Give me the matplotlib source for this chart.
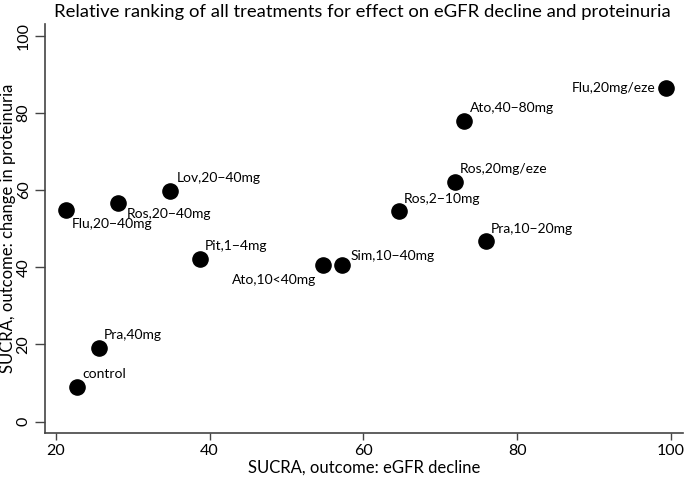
import numpy as np
import matplotlib.pyplot as plt

plt.rcParams['font.family'] = ['Lato', 'DejaVu Sans']

# SUCRA values
names = ["Flu,20\u221240mg", "Ros,20\u221240mg", "Lov,20\u221240mg", "Pit,1\u22124mg",
         "Ato,10<40mg", "Sim,10\u221240mg", "Ros,2\u221210mg", "Ros,20mg/eze",
         "Ato,40\u221280mg", "Pra,10\u221220mg", "Flu,20mg/eze", "Pra,40mg", "control"]
sucra_egfr = [21.3, 28.1, 34.9, 38.8, 54.7, 57.2, 64.6, 71.9, 73.1, 75.9, 99.3, 25.6, 22.8]
sucra_prot = [54.8, 56.6, 59.8, 42.1, 40.7, 40.6, 54.5, 62.0, 77.9, 46.7, 86.4, 19.0, 9.0]

# label offsets in pixels (dx, dy) and horizontal alignment
offsets = [(6, -14, 'left'), (9, -11, 'left'), (6, 13, 'left'), (4, 13, 'left'),
           (-6, -15, 'right'), (9, 9, 'left'), (5, 12, 'left'), (5, 13, 'left'),
           (6, 13, 'left'), (5, 12, 'left'), (-10, 0, 'right'), (5, 13, 'left'),
           (5, 13, 'left')]

fig = plt.figure(figsize=(6.85, 4.8), dpi=100)
ax = fig.add_axes([0.065, 0.0973, 0.9325, 0.8527])

ax.scatter(sucra_egfr, sucra_prot, s=120, color='black', zorder=3)
for name, x, y, (dx, dy, ha) in zip(names, sucra_egfr, sucra_prot, offsets):
    ax.annotate(name, (x, y), xytext=(dx, dy), textcoords='offset pixels',
                ha=ha, va='center', fontsize=10)

ax.set_xlim(18.53, 101.6)
ax.set_ylim(-3, 103)
ax.set_xticks([20, 40, 60, 80, 100])
ax.set_yticks([0, 20, 40, 60, 80, 100])
for s in ['top', 'right']:
    ax.spines[s].set_visible(False)
for s in ['left', 'bottom']:
    ax.spines[s].set_color('#444444')
    ax.spines[s].set_linewidth(1.2)
ax.tick_params(axis='x', length=5, width=1, color='#444444', labelsize=11.5, pad=3)
ax.tick_params(axis='y', length=7, width=1, color='#444444', labelsize=11.5, pad=3)
for lab in ax.get_yticklabels():
    lab.set_rotation(90)
    lab.set_va('center')

ax.set_xlabel("SUCRA, outcome: eGFR decline", fontsize=12, labelpad=1)
ax.set_ylabel("SUCRA, outcome: change in proteinuria", fontsize=12)
ax.yaxis.set_label_coords(-0.044, 0.5)
ax.set_title("Relative ranking of all treatments for effect on eGFR decline and proteinuria",
             fontsize=13.3, x=0.497, pad=5)

fig.savefig("out.png", dpi=100)
